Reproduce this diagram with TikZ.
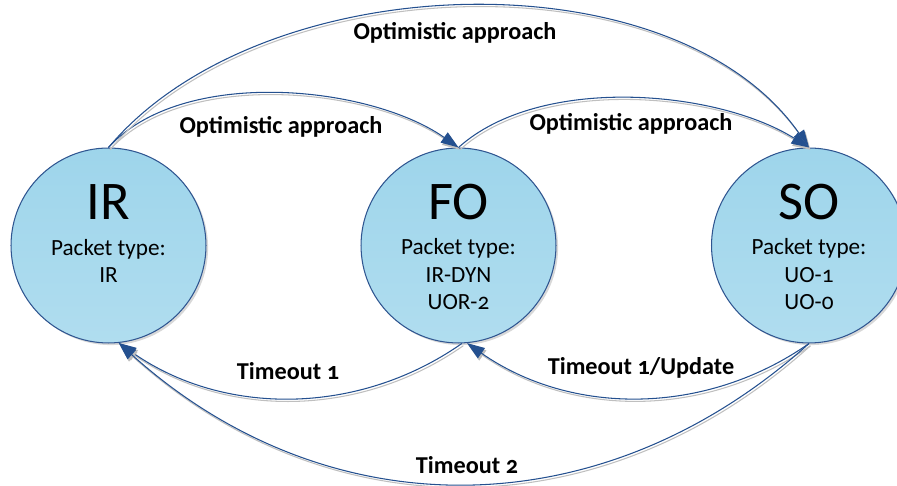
\documentclass[tikz,border=0pt]{standalone}
\usepackage{fontspec}
\setmainfont{Carlito}[Numbers=OldStyle]
\usetikzlibrary{arrows.meta,shadows}
\definecolor{stateline}{HTML}{2F5590}
\definecolor{statetop}{HTML}{9ED5EB}
\definecolor{statebot}{HTML}{B0DDEF}
\definecolor{linkblue}{HTML}{24508F}
\begin{document}
\begin{tikzpicture}[x=0.02cm,y=-0.02cm,
	state/.style={circle,draw=stateline,line width=0.6pt,top color=statetop,bottom color=statebot,minimum size=3.9cm,inner sep=0pt,drop shadow={shadow xshift=1.2pt,shadow yshift=-1.2pt,fill=black!30}},
	statename/.style={anchor=base,font=\fontsize{31}{33}\selectfont},
	statetype/.style={anchor=base,align=center,font=\fontsize{13.2}{15.8}\selectfont},
	link/.style={draw=linkblue,line width=0.6pt,-{Triangle[length=10pt,width=7pt]},preaction={draw=black!25,line width=0.6pt,transform canvas={shift={(0.8pt,-1.3pt)}}}},
	linklabel/.style={font=\bfseries\fontsize{13.8}{16}\selectfont}]
	\useasboundingbox (0,0) rectangle (897,486);
	\begin{scope}
	\clip (0,0) rectangle (897,486);
	\node [state] (ir) at (108.5,245.5) {};
	\node [state] (fo) at (458.5,245.5) {};
	\node [state] (so) at (809,245.5) {};
	\end{scope}
	\node [statename] (irname) at (108.5,220) {IR};
	\node [statetype] (irtype) at (108.5,283) {Packet type:\\IR};
	\node [statename] (foname) at (458.5,220) {FO};
	\node [statetype] (fotype) at (458.5,310) {Packet type:\\IR-DYN\\UOR-2};
	\node [statename] (soname) at (809,220) {SO};
	\node [statetype] (sotype) at (809,310) {Packet type:\\UO-1\\UO-0};
	\draw [link] (ir.north) to [out=48,in=145,looseness=0.8] (fo.north);
	\draw [link] (ir.north) to [out=50,in=125,looseness=0.87] (so.north);
	\draw [link] (fo.north) to [out=42,in=148,looseness=0.8] (so.north);
	\draw [link] (fo.-88) to [out=215,in=-35,looseness=0.95] (ir.-84);
	\draw [link] (so.-90) to [out=215,in=-35,looseness=0.95] (fo.-85);
	\draw [link] (so.-90) to [out=222,in=-42,looseness=1.04] (ir.-84);
	\node [linklabel] (toplabel) at (455,33) {Optimistic approach};
	\node [linklabel] (irfolabel) at (281,127) {Optimistic approach};
	\node [linklabel] (fosolabel) at (631,124) {Optimistic approach};
	\node [linklabel] (foirlabel) at (288,371) {Timeout 1};
	\node [linklabel] (sofolabel) at (641,368) {Timeout 1/Update};
	\node [linklabel] (soirlabel) at (467,465) {Timeout 2};
\end{tikzpicture}
\end{document}
